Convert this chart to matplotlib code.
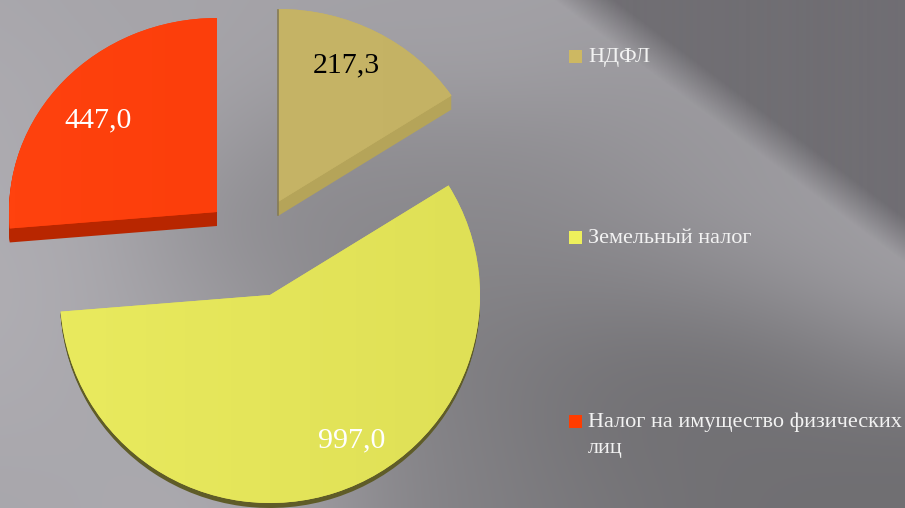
import matplotlib
matplotlib.use('Agg')
import matplotlib.pyplot as plt
from matplotlib.colors import LinearSegmentedColormap
from matplotlib.patches import Rectangle, Wedge
from matplotlib.transforms import Affine2D
import numpy as np

categories = ['НДФЛ', 'Земельный налог', 'Налог на имущество физических\nлиц']
values = [217.3, 997.0, 447.0]
label_colors = ['black', 'white', 'white']
legend_colors = ['#cdb862', '#eef05c', '#ff3c00']

W, H = 905, 508
tilt = 0.66  # сжатие углов от наклона диаграммы

# центр, радиусы, глубина, цвета (верх слева, верх справа, бок), подпись
slices = [
    dict(c=(278, 202), r=(208, 193), depth=14, left='#c8b668', right='#c4b264', side='#b5a459', text=(346, 65)),
    dict(c=(270, 295), r=(210, 208), depth=5, left='#e9ea5e', right='#dfe056', side='#5f5c28', text=(352, 440)),
    dict(c=(217, 212), r=(208, 194), depth=14, left='#ff420e', right='#f93a08', side='#b82600', text=(98, 120)),
]
legend_y = [56, 237, 421]

# серый фон: грубая сетка яркостей, шаг 100 x 72 пикселя
bg_grid = np.array([
    [0xa9, 0xa6, 0xa6, 0xa4, 0xa3, 0xa3, 0xa2, 0xa0, 0xa0, 0xa0],
    [0xac, 0xa8, 0xa6, 0xa0, 0xa0, 0xa0, 0x9c, 0x9c, 0x9c, 0x9c],
    [0xad, 0xa8, 0xa0, 0x92, 0x90, 0x90, 0x94, 0x9a, 0x9c, 0x9c],
    [0xae, 0xa9, 0x95, 0x8c, 0x8b, 0x8a, 0x8e, 0x96, 0x9e, 0xa0],
    [0xb0, 0xaa, 0x9c, 0x90, 0x85, 0x84, 0x84, 0x88, 0x92, 0xa0],
    [0xae, 0xaa, 0xa2, 0x92, 0x84, 0x7e, 0x76, 0x74, 0x7a, 0x88],
    [0xab, 0xaa, 0xa8, 0x9a, 0x88, 0x7e, 0x74, 0x72, 0x72, 0x72],
    [0xa8, 0xaa, 0xac, 0xa0, 0x88, 0x80, 0x78, 0x72, 0x70, 0x70],
])

plt.rcParams['font.family'] = ['Liberation Serif', 'DejaVu Serif']

fig = plt.figure(figsize=(W / 100, H / 100), dpi=100)
ax = fig.add_axes([0, 0, 1, 1])

g = bg_grid / 255
ax.imshow(np.dstack([g, g * 0.99, g * 1.02]).clip(0, 1), extent=(-50, 950, 540, -36), aspect='auto',
          interpolation='bicubic', zorder=0)

# тёмный верхний правый угол с диагональной границей
yy, xx = np.mgrid[0:H, 0:W]
edge = yy - 0.75 * (xx - 560)
dark = np.zeros((H, W, 4))
dark[..., 0] = 0x70 / 255
dark[..., 1] = 0x6e / 255
dark[..., 2] = 0x73 / 255
dark[..., 3] = np.clip(-edge / 45 + 0.1, 0, 1)
ax.imshow(dark, extent=(0, W, H, 0), aspect='auto', zorder=1)


def project(theta, s):
    t = np.radians(theta)
    rx, ry = s['r']
    return np.degrees(np.arctan2(np.sin(t), tilt * np.cos(t) * rx / ry)) % 360


def slice_patch(s, a0, a1, dy, color):
    tr = Affine2D().scale(s['r'][0], -s['r'][1]).translate(s['c'][0], s['c'][1] + dy) + ax.transData
    w = Wedge((0, 0), 1, 90 - a1, 90 - a0, facecolor=color, edgecolor='none', transform=tr, zorder=2)
    ax.add_patch(w)
    return w


bounds = np.cumsum([0] + values) / sum(values) * 360
for i, s in enumerate(slices):
    a0 = project(bounds[i], s)
    a1 = project(bounds[i + 1], s)
    if a1 <= a0:
        a1 += 360
    for dy in range(s['depth'], 0, -1):
        slice_patch(s, a0, a1, dy, s['side'])
    top = slice_patch(s, a0, a1, 0, s['right'])
    # лёгкий градиент по верхней грани
    cmap = LinearSegmentedColormap.from_list('g', [s['left'], s['right']])
    x0, y0 = s['c']
    rx, ry = s['r']
    im = ax.imshow(np.linspace(0, 1, 64).reshape(1, -1), cmap=cmap, aspect='auto', zorder=3,
                   extent=(x0 - rx, x0 + rx, y0 + ry, y0 - ry))
    im.set_clip_path(top)
    ax.text(s['text'][0], s['text'][1], f'{values[i]:.1f}'.replace('.', ','), color=label_colors[i],
            fontsize=21.5, ha='center', va='center', zorder=5)

# тёмная кромка у сектора НДФЛ
ax.plot([278, 278], [10, 215], color='#857b55', lw=1.2, zorder=4)

for name, color, y in zip(categories, legend_colors, legend_y):
    ax.add_patch(Rectangle((569, y - 6.5), 13, 13, facecolor=color, edgecolor='none', zorder=5))
    ax.text(588, y - 8, name, color='#f2f2f2', fontsize=16, ha='left', va='top', linespacing=1.5, zorder=5)

ax.set_xlim(0, W)
ax.set_ylim(H, 0)
ax.axis('off')

plt.savefig('out.png', dpi=100)
